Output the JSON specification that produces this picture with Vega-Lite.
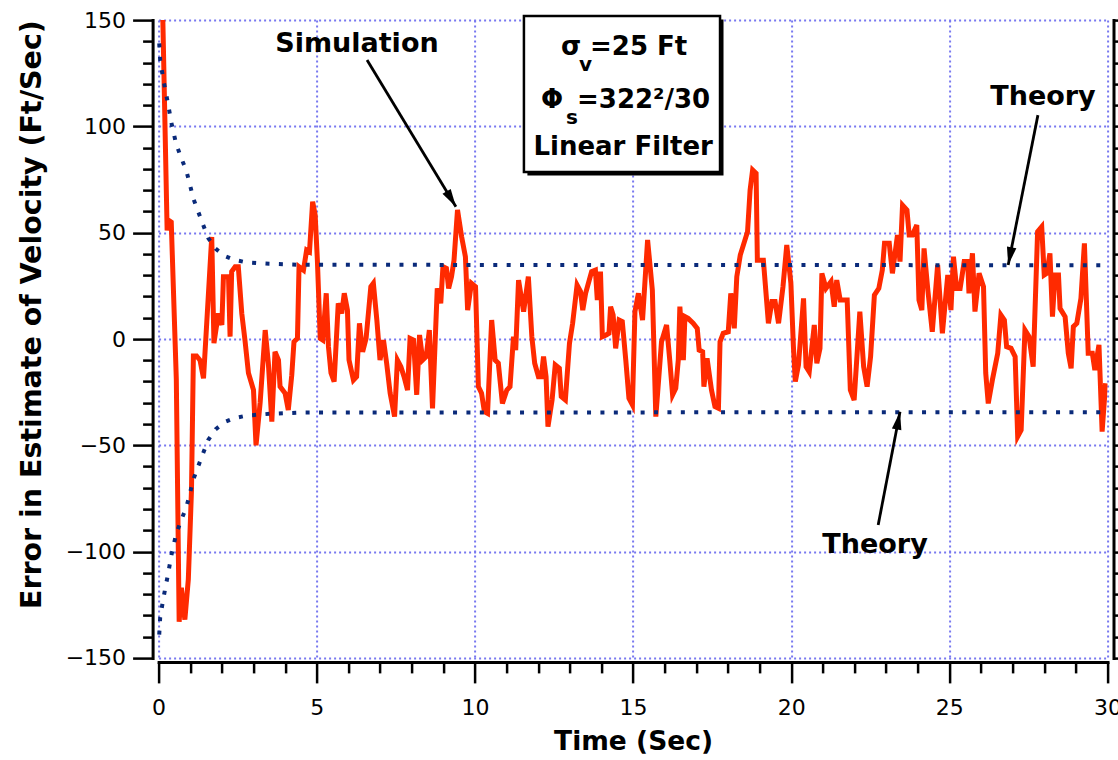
{
  "$schema": "https://vega.github.io/schema/vega-lite/v6.json",
  "width": 948.9,
  "height": 637.8,
  "autosize": {"type": "none"},
  "padding": {"left": 158.6, "top": 20.1, "right": 10.5, "bottom": 102.1},
  "background": "white",
  "config": {
    "view": {"stroke": null},
    "axis": {"labelFont": "DejaVu Sans", "titleFont": "DejaVu Sans", "labelColor": "black", "tickColor": "black", "domainColor": "black", "titleColor": "black", "labelFlush": false, "labelOverlap": false, "labelBound": false}
  },
  "resolve": {"axis": {"x": "independent", "y": "independent"}},
  "datasets": {
    "sim": [
      {"t":0.1,"v":175},{"t":0.27,"v":51},{"t":0.3,"v":56},{"t":0.4,"v":55},{"t":0.56,"v":-19},{"t":0.65,"v":-133},{"t":0.72,"v":-117},{"t":0.83,"v":-132},{"t":0.94,"v":-113},{"t":1.04,"v":-71},{"t":1.1,"v":-8},{"t":1.2,"v":-8},{"t":1.31,"v":-10},{"t":1.42,"v":-18.5},{"t":1.68,"v":48},{"t":1.75,"v":-2},{"t":1.89,"v":12},{"t":2.0,"v":6.6},{"t":2.05,"v":29.3},{"t":2.21,"v":29.3},{"t":2.26,"v":1.1},{"t":2.31,"v":31.7},{"t":2.42,"v":34},{"t":2.52,"v":34},{"t":2.63,"v":12},{"t":2.73,"v":-0.5},{"t":2.84,"v":-16},{"t":3.0,"v":-24},{"t":3.08,"v":-50},{"t":3.21,"v":-30},{"t":3.37,"v":4.2},{"t":3.47,"v":-11.4},{"t":3.58,"v":-38.9},{"t":3.68,"v":-6},{"t":3.79,"v":-9.9},{"t":3.84,"v":-22.4},{"t":4.0,"v":-25.5},{"t":4.1,"v":-33.4},{"t":4.21,"v":-17},{"t":4.28,"v":-1.3},{"t":4.39,"v":0.3},{"t":4.44,"v":34},{"t":4.58,"v":32.4},{"t":4.68,"v":41.8},{"t":4.77,"v":41},{"t":4.87,"v":64.6},{"t":4.95,"v":58.3},{"t":5.02,"v":37},{"t":5.11,"v":0.3},{"t":5.19,"v":-0.5},{"t":5.3,"v":21.5},{"t":5.37,"v":-3.6},{"t":5.45,"v":-16},{"t":5.55,"v":-20},{"t":5.68,"v":16.8},{"t":5.79,"v":12},{"t":5.87,"v":21.5},{"t":5.97,"v":13.6},{"t":6.02,"v":-9.9},{"t":6.16,"v":-19.3},{"t":6.26,"v":-17.7},{"t":6.35,"v":7.4},{"t":6.45,"v":-6},{"t":6.56,"v":0.3},{"t":6.71,"v":24.6},{"t":6.79,"v":26.2},{"t":6.9,"v":8.9},{"t":7.0,"v":-9.9},{"t":7.11,"v":-0.5},{"t":7.21,"v":-11.4},{"t":7.32,"v":-25.5},{"t":7.46,"v":-36.5},{"t":7.55,"v":-9.9},{"t":7.66,"v":-13},{"t":7.76,"v":-17.7},{"t":7.87,"v":-24},{"t":7.95,"v":0.3},{"t":8.06,"v":-0.5},{"t":8.16,"v":-26.3},{"t":8.25,"v":1.9},{"t":8.35,"v":-9.9},{"t":8.46,"v":-8.3},{"t":8.56,"v":4.2},{"t":8.66,"v":-32.6},{"t":8.81,"v":23.8},{"t":8.92,"v":16.8},{"t":8.99,"v":34},{"t":9.1,"v":33.2},{"t":9.17,"v":23.8},{"t":9.26,"v":29.3},{"t":9.34,"v":37.1},{"t":9.45,"v":60.7},{"t":9.58,"v":48.1},{"t":9.7,"v":38.7},{"t":9.77,"v":13.6},{"t":9.89,"v":26.2},{"t":10.02,"v":24.6},{"t":10.11,"v":-22.4},{"t":10.21,"v":-25.5},{"t":10.3,"v":-34.2},{"t":10.4,"v":-35},{"t":10.53,"v":8.9},{"t":10.64,"v":-9.9},{"t":10.74,"v":-11.4},{"t":10.87,"v":-30.3},{"t":11.01,"v":-24},{"t":11.11,"v":-22.4},{"t":11.22,"v":1.1},{"t":11.29,"v":-5.2},{"t":11.38,"v":27.7},{"t":11.54,"v":12.9},{"t":11.69,"v":29.3},{"t":11.8,"v":1.1},{"t":11.89,"v":-11.4},{"t":12.01,"v":-17.7},{"t":12.1,"v":-17.7},{"t":12.17,"v":-8.3},{"t":12.25,"v":-17.7},{"t":12.31,"v":-41.2},{"t":12.44,"v":-28.7},{"t":12.54,"v":-12.2},{"t":12.67,"v":-13.8},{"t":12.73,"v":-27.1},{"t":12.86,"v":-28.7},{"t":12.99,"v":-2},{"t":13.09,"v":7.4},{"t":13.23,"v":25.4},{"t":13.34,"v":22.3},{"t":13.41,"v":13.6},{"t":13.5,"v":21.5},{"t":13.69,"v":31.7},{"t":13.81,"v":32.4},{"t":13.87,"v":18.3},{"t":13.97,"v":31.7},{"t":14.03,"v":1.1},{"t":14.15,"v":1.9},{"t":14.24,"v":2.7},{"t":14.29,"v":15.2},{"t":14.37,"v":11.3},{"t":14.45,"v":-4.4},{"t":14.56,"v":8.9},{"t":14.66,"v":8.2},{"t":14.77,"v":-9.9},{"t":14.87,"v":-27.9},{"t":14.98,"v":-31},{"t":15.06,"v":12.9},{"t":15.17,"v":21.5},{"t":15.3,"v":8.9},{"t":15.46,"v":46.6},{"t":15.61,"v":23},{"t":15.72,"v":-36.5},{"t":15.9,"v":-1.3},{"t":16.06,"v":6.6},{"t":16.16,"v":-9.9},{"t":16.25,"v":-26.3},{"t":16.35,"v":-23.2},{"t":16.43,"v":-9.9},{"t":16.48,"v":15.2},{"t":16.59,"v":-9.9},{"t":16.64,"v":10.5},{"t":16.74,"v":9.7},{"t":16.9,"v":7.4},{"t":17.03,"v":5},{"t":17.09,"v":-5.2},{"t":17.2,"v":-6},{"t":17.24,"v":-22.4},{"t":17.34,"v":-9.1},{"t":17.48,"v":-24},{"t":17.59,"v":-31.8},{"t":17.7,"v":-32.6},{"t":17.75,"v":-1.3},{"t":17.85,"v":2.7},{"t":18.01,"v":3.4},{"t":18.09,"v":21.5},{"t":18.2,"v":5},{"t":18.28,"v":29.3},{"t":18.39,"v":39.5},{"t":18.62,"v":50.5},{"t":18.7,"v":70},{"t":18.78,"v":79.5},{"t":18.89,"v":77.9},{"t":18.93,"v":37.1},{"t":19.12,"v":37.1},{"t":19.28,"v":7.4},{"t":19.39,"v":17.6},{"t":19.49,"v":17.6},{"t":19.6,"v":7.4},{"t":19.74,"v":24.6},{"t":19.86,"v":44.2},{"t":19.99,"v":26.2},{"t":20.07,"v":-3.6},{"t":20.13,"v":-20},{"t":20.23,"v":-12.2},{"t":20.39,"v":19.1},{"t":20.47,"v":-13},{"t":20.57,"v":-15.4},{"t":20.73,"v":6.6},{"t":20.81,"v":-11.4},{"t":20.91,"v":-4.4},{"t":20.97,"v":30.9},{"t":21.1,"v":23.8},{"t":21.26,"v":27},{"t":21.36,"v":15.2},{"t":21.44,"v":27.7},{"t":21.55,"v":18.3},{"t":21.77,"v":18.3},{"t":21.87,"v":-24},{"t":21.99,"v":-28.7},{"t":22.17,"v":12.9},{"t":22.29,"v":-13},{"t":22.4,"v":-22.4},{"t":22.51,"v":-8.3},{"t":22.63,"v":20.7},{"t":22.77,"v":23.8},{"t":22.88,"v":32.4},{"t":22.95,"v":45},{"t":23.1,"v":45},{"t":23.2,"v":30.9},{"t":23.36,"v":48.9},{"t":23.44,"v":36.4},{"t":23.52,"v":63},{"t":23.66,"v":60.7},{"t":23.73,"v":48.9},{"t":23.83,"v":48.9},{"t":23.97,"v":53.6},{"t":24.04,"v":18.3},{"t":24.13,"v":13.6},{"t":24.2,"v":42.6},{"t":24.32,"v":23},{"t":24.46,"v":3.4},{"t":24.63,"v":34.8},{"t":24.78,"v":2.7},{"t":24.95,"v":30.1},{"t":25.05,"v":13.6},{"t":25.13,"v":38.7},{"t":25.23,"v":23.8},{"t":25.34,"v":23.8},{"t":25.47,"v":36.4},{"t":25.58,"v":36.4},{"t":25.62,"v":21.5},{"t":25.73,"v":40.3},{"t":25.81,"v":12.9},{"t":25.94,"v":30.9},{"t":26.08,"v":24.6},{"t":26.15,"v":-16},{"t":26.23,"v":-30.3},{"t":26.36,"v":-19.3},{"t":26.53,"v":-6.7},{"t":26.63,"v":11.3},{"t":26.74,"v":8.9},{"t":26.81,"v":-3.6},{"t":26.95,"v":-4.4},{"t":27.08,"v":-8.3},{"t":27.16,"v":-45.9},{"t":27.27,"v":-42.8},{"t":27.39,"v":4.2},{"t":27.52,"v":1.1},{"t":27.65,"v":-13},{"t":27.79,"v":50.5},{"t":27.92,"v":52.8},{"t":28.0,"v":30.1},{"t":28.08,"v":30.9},{"t":28.18,"v":40.3},{"t":28.26,"v":10.5},{"t":28.34,"v":30.1},{"t":28.45,"v":30.1},{"t":28.5,"v":14.4},{"t":28.66,"v":10.5},{"t":28.76,"v":-6.7},{"t":28.85,"v":-13.8},{"t":28.92,"v":5.8},{"t":29.03,"v":7.4},{"t":29.16,"v":19.1},{"t":29.27,"v":45},{"t":29.39,"v":-6.7},{"t":29.52,"v":-6.7},{"t":29.6,"v":-14.6},{"t":29.73,"v":-2.8},{"t":29.83,"v":-43.6},{"t":29.94,"v":-20.8}
    ],
    "theory": [
      {"side":"upper","t":0.02,"v":139},{"side":"upper","t":0.05,"v":131},{"side":"upper","t":0.14,"v":123},{"side":"upper","t":0.22,"v":116.5},{"side":"upper","t":0.3,"v":110.5},{"side":"upper","t":0.4,"v":102},{"side":"upper","t":0.55,"v":92},{"side":"upper","t":0.72,"v":85},{"side":"upper","t":0.88,"v":79},{"side":"upper","t":1.0,"v":72},{"side":"upper","t":1.1,"v":66},{"side":"upper","t":1.25,"v":60},{"side":"upper","t":1.4,"v":54},{"side":"upper","t":1.57,"v":47.5},{"side":"upper","t":1.8,"v":42.5},{"side":"upper","t":2.1,"v":39},{"side":"upper","t":2.4,"v":37.2},{"side":"upper","t":2.8,"v":36},{"side":"upper","t":3.5,"v":35.4},{"side":"upper","t":4.5,"v":34.9},{"side":"upper","t":30,"v":34.7},
      {"side":"lower","t":0.02,"v":-139},{"side":"lower","t":0.05,"v":-131},{"side":"lower","t":0.14,"v":-123},{"side":"lower","t":0.22,"v":-116.5},{"side":"lower","t":0.3,"v":-110.5},{"side":"lower","t":0.4,"v":-102},{"side":"lower","t":0.55,"v":-92},{"side":"lower","t":0.72,"v":-85},{"side":"lower","t":0.88,"v":-79},{"side":"lower","t":1.0,"v":-72},{"side":"lower","t":1.1,"v":-66},{"side":"lower","t":1.25,"v":-60},{"side":"lower","t":1.4,"v":-54},{"side":"lower","t":1.57,"v":-47.5},{"side":"lower","t":1.8,"v":-42.5},{"side":"lower","t":2.1,"v":-39},{"side":"lower","t":2.4,"v":-37.2},{"side":"lower","t":2.8,"v":-36},{"side":"lower","t":3.5,"v":-35.2},{"side":"lower","t":4.5,"v":-34.6},{"side":"lower","t":30,"v":-34.4}
    ],
    "box": [{"t1":11.55,"t2":17.75,"v1":78.5,"v2":151.9}],
    "shadow": [{"t1":11.66,"t2":17.86,"v1":76.9,"v2":150.3}],
    "boxtext": [
      {"t":12.72,"v":133.6,"text":"σ"},
      {"t":13.64,"v":133.6,"text":"=25 Ft"},
      {"t":12.09,"v":108.6,"text":"Φ"},
      {"t":13.23,"v":108.6,"text":"=322²/30"},
      {"t":11.85,"v":86.5,"text":"Linear Filter"}
    ],
    "subs": [
      {"t":13.29,"v":126.0,"text":"v"},
      {"t":12.88,"v":101.1,"text":"s"}
    ],
    "labels": [
      {"t":6.27,"v":135,"text":"Simulation"},
      {"t":27.96,"v":110,"text":"Theory"},
      {"t":22.65,"v":-100.6,"text":"Theory"}
    ],
    "arrows": [
      {"name":"sim","t":6.59,"v":131.2,"t2":9.40,"v2":62.2},
      {"name":"up","t":27.80,"v":105.3,"t2":26.86,"v2":34.8},
      {"name":"low","t":22.75,"v":-87.5,"t2":23.44,"v2":-34.2}
    ]
  },
  "layer": [
    {
      "data": {"name": "sim"},
      "mark": {"type": "line", "color": "#ff2a00", "strokeWidth": 5, "strokeJoin": "miter", "clip": true},
      "encoding": {
        "x": {"field": "t", "type": "quantitative", "scale": {"domain": [0, 30], "nice": false, "zero": false},
          "axis": {"orient": "bottom", "values": [0,5,10,15,20,25,30], "offset": 4, "tickSize": 21, "tickWidth": 2.5, "domainWidth": 3, "domainCap": "square", "labelFontSize": 22, "labelPadding": 15, "grid": true, "gridColor": "#7878f0", "gridDash": [2,3], "gridWidth": 2, "title": "Time (Sec)", "titleFontSize": 26.5, "titleFontWeight": "bold", "titleY": 88, "titleBaseline": "alphabetic"}},
        "y": {"field": "v", "type": "quantitative", "scale": {"domain": [-150, 150], "nice": false, "zero": false},
          "axis": {"orient": "left", "values": [-150,-100,-50,0,50,100,150], "offset": 6, "tickSize": 20, "tickWidth": 2.5, "domainWidth": 3, "domainCap": "square", "labelFontSize": 22, "labelPadding": 7, "grid": true, "gridColor": "#7878f0", "gridDash": [2,3], "gridWidth": 2, "title": "Error in Estimate of Velocity (Ft/Sec)", "titleFontSize": 28.5, "titleFontWeight": "bold", "titleAngle": -90, "titleX": -112.6, "titleY": 294, "titleAlign": "center", "titleBaseline": "alphabetic"}}
      }
    },
    {
      "data": {"name": "theory"},
      "mark": {"type": "line", "color": "#0a2a7a", "strokeWidth": 4, "strokeDash": [4, 9.4], "strokeCap": "butt"},
      "encoding": {
        "detail": {"field": "side"},
        "x": {"field": "t", "type": "quantitative", "scale": {"domain": [0, 30], "nice": false, "zero": false},
          "axis": {"orient": "bottom", "values": [1,2,3,4,6,7,8,9,11,12,13,14,16,17,18,19,21,22,23,24,26,27,28,29], "offset": 4, "tickSize": 11, "tickWidth": 2.5, "domain": false, "labels": false, "grid": false, "title": null}},
        "y": {"field": "v", "type": "quantitative", "scale": {"domain": [-150, 150], "nice": false, "zero": false},
          "axis": {"orient": "left", "values": [-140,-130,-120,-110,-90,-80,-70,-60,-40,-30,-20,-10,10,20,30,40,60,70,80,90,110,120,130,140], "offset": 6, "tickSize": 10, "tickWidth": 2.5, "domain": false, "labels": false, "grid": false, "title": null}}
      }
    },
    {
      "data": {"name": "shadow"},
      "mark": {"type": "rect", "color": "black", "clip": false},
      "encoding": {
        "x": {"field": "t1", "type": "quantitative", "axis": null},
        "x2": {"field": "t2"},
        "y": {"field": "v1", "type": "quantitative",
          "axis": {"orient": "right", "values": [-150,-140,-130,-120,-110,-100,-90,-80,-70,-60,-50,-40,-30,-20,-10,0,10,20,30,40,50,60,70,80,90,100,110,120,130,140,150], "offset": 6, "tickSize": 12, "tickWidth": 2.5, "domainWidth": 3, "domainCap": "square", "labels": false, "grid": false, "title": null}},
        "y2": {"field": "v2"}
      }
    },
    {
      "data": {"name": "box"},
      "mark": {"type": "rect", "fill": "white", "stroke": "black", "strokeWidth": 2.5, "clip": false},
      "encoding": {
        "x": {"field": "t1", "type": "quantitative", "axis": null},
        "x2": {"field": "t2"},
        "y": {"field": "v1", "type": "quantitative", "axis": null},
        "y2": {"field": "v2"}
      }
    },
    {
      "data": {"name": "boxtext"},
      "mark": {"type": "text", "font": "DejaVu Sans", "fontWeight": "bold", "fontSize": 26, "align": "left", "baseline": "alphabetic", "color": "black", "clip": false},
      "encoding": {
        "x": {"field": "t", "type": "quantitative", "axis": null},
        "y": {"field": "v", "type": "quantitative", "axis": null},
        "text": {"field": "text"}
      }
    },
    {
      "data": {"name": "subs"},
      "mark": {"type": "text", "font": "DejaVu Sans", "fontWeight": "bold", "fontSize": 20, "align": "left", "baseline": "alphabetic", "color": "black", "clip": false},
      "encoding": {
        "x": {"field": "t", "type": "quantitative", "axis": null},
        "y": {"field": "v", "type": "quantitative", "axis": null},
        "text": {"field": "text"}
      }
    },
    {
      "data": {"name": "labels"},
      "mark": {"type": "text", "font": "DejaVu Sans", "fontWeight": "bold", "fontSize": 27, "align": "center", "baseline": "alphabetic", "color": "black", "clip": false},
      "encoding": {
        "x": {"field": "t", "type": "quantitative", "axis": null},
        "y": {"field": "v", "type": "quantitative", "axis": null},
        "text": {"field": "text"}
      }
    },
    {
      "data": {"name": "arrows"},
      "mark": {"type": "rule", "color": "black", "strokeWidth": 2.8, "clip": false},
      "encoding": {
        "x": {"field": "t", "type": "quantitative", "axis": null},
        "y": {"field": "v", "type": "quantitative", "axis": null},
        "x2": {"field": "t2"},
        "y2": {"field": "v2"}
      }
    },
    {
      "data": {"name": "arrows"},
      "transform": [{"filter": "datum.name === 'sim'"}],
      "mark": {"type": "point", "shape": "M0,0L-0.8,3L0.8,3Z", "size": 144, "filled": true, "color": "black", "opacity": 1, "angle": 148.8, "strokeWidth": 0},
      "encoding": {
        "x": {"field": "t2", "type": "quantitative", "axis": null},
        "y": {"field": "v2", "type": "quantitative", "axis": null}
      }
    },
    {
      "data": {"name": "arrows"},
      "transform": [{"filter": "datum.name === 'up'"}],
      "mark": {"type": "point", "shape": "M0,0L-0.8,3L0.8,3Z", "size": 144, "filled": true, "color": "black", "opacity": 1, "angle": 191.2, "strokeWidth": 0},
      "encoding": {
        "x": {"field": "t2", "type": "quantitative", "axis": null},
        "y": {"field": "v2", "type": "quantitative", "axis": null}
      }
    },
    {
      "data": {"name": "arrows"},
      "transform": [{"filter": "datum.name === 'low'"}],
      "mark": {"type": "point", "shape": "M0,0L-0.8,3L0.8,3Z", "size": 144, "filled": true, "color": "black", "opacity": 1, "angle": 10.8, "strokeWidth": 0},
      "encoding": {
        "x": {"field": "t2", "type": "quantitative", "axis": null},
        "y": {"field": "v2", "type": "quantitative", "axis": null}
      }
    }
  ]
}
